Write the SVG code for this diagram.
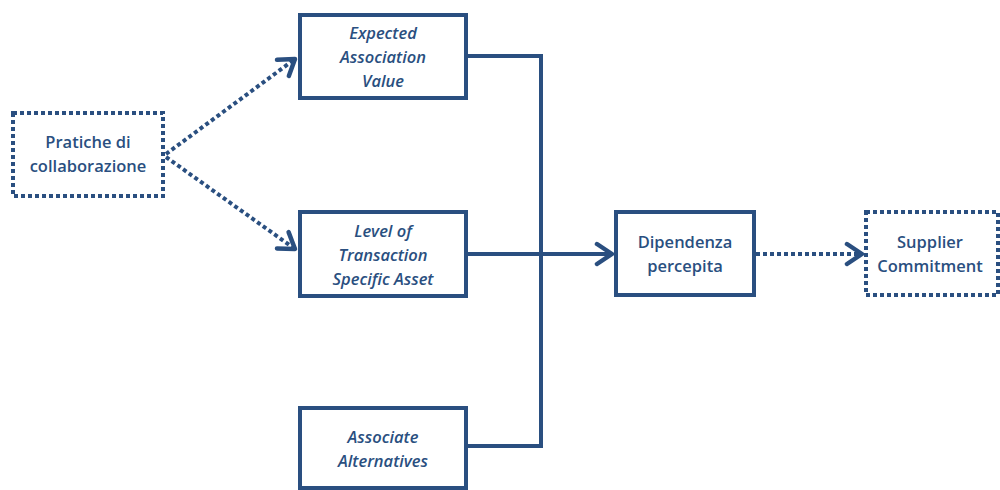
<svg xmlns="http://www.w3.org/2000/svg" width="1000" height="490" viewBox="0 0 1000 490">
  <style>
    .box { fill: #ffffff; stroke: #2a4f80; stroke-width: 4; }
    .dotted { stroke-dasharray: 4 3; }
    .wire { fill: none; stroke: #2a4f80; stroke-width: 4; }
    .label { font-family: "Open Sans", "Liberation Sans", sans-serif; font-size: 16.5px; font-weight: 600; fill: #2a4f80; text-anchor: middle; }
    .it { font-style: italic; }
  </style>
  <defs>
    <marker id="chev" markerUnits="userSpaceOnUse" markerWidth="26" markerHeight="26" viewBox="-20 -13 24 26" refX="0" refY="0" orient="auto">
      <polyline points="-15,-10 0,0 -15,10" fill="none" stroke="#2a4f80" stroke-width="4.5" stroke-linecap="round" stroke-linejoin="round"/>
    </marker>
  </defs>
  <rect width="1000" height="490" fill="#ffffff"/>

  <g id="connectors">
    <line class="wire dotted" x1="166" y1="154" x2="295" y2="59" marker-end="url(#chev)"/>
    <line class="wire dotted" x1="166" y1="157" x2="295" y2="249" marker-end="url(#chev)"/>
    <polyline class="wire" points="467,56 541,56 541,446 467,446"/>
    <line class="wire" x1="467" y1="254" x2="612" y2="254" marker-end="url(#chev)"/>
    <line class="wire dotted" x1="756" y1="254" x2="862" y2="254" marker-end="url(#chev)"/>
  </g>

  <g id="pratiche">
    <rect class="box dotted" x="13" y="113" width="150" height="83"/>
    <text class="label" x="88" y="148">Pratiche di</text>
    <text class="label" x="88" y="172">collaborazione</text>
  </g>

  <g id="expected">
    <rect class="box" x="300" y="15" width="166" height="83"/>
    <text class="label it" x="383" y="39">Expected</text>
    <text class="label it" x="383" y="63">Association</text>
    <text class="label it" x="383" y="87">Value</text>
  </g>

  <g id="level">
    <rect class="box" x="300" y="212" width="166" height="84"/>
    <text class="label it" x="383" y="237">Level of</text>
    <text class="label it" x="383" y="261">Transaction</text>
    <text class="label it" x="383" y="285">Specific Asset</text>
  </g>

  <g id="alternatives">
    <rect class="box" x="300" y="408" width="166" height="80"/>
    <text class="label it" x="383" y="443">Associate</text>
    <text class="label it" x="383" y="467">Alternatives</text>
  </g>

  <g id="dipendenza">
    <rect class="box" x="616" y="212" width="138" height="83"/>
    <text class="label" x="685" y="248">Dipendenza</text>
    <text class="label" x="685" y="272">percepita</text>
  </g>

  <g id="supplier">
    <rect class="box dotted" x="866" y="212" width="132" height="83"/>
    <text class="label" x="930" y="248">Supplier</text>
    <text class="label" x="930" y="272">Commitment</text>
  </g>
</svg>
